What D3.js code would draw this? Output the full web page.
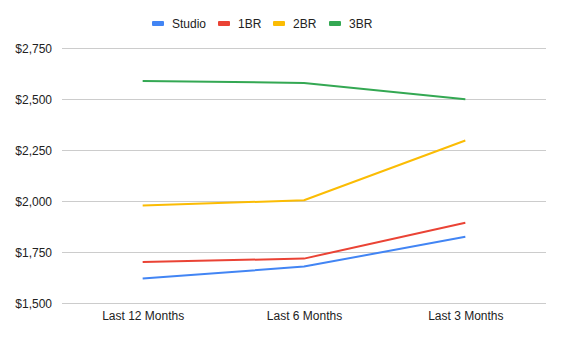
<!DOCTYPE html>
<html><head><meta charset="utf-8">
<script src="https://cdn.jsdelivr.net/npm/d3@7"></script>
<style>body{margin:0;background:#fff}svg{display:block;font-family:"Liberation Sans",Arial,sans-serif}</style>
</head><body>
<svg id="c" width="562" height="340"></svg>
<script>
const categories = ["Last 12 Months", "Last 6 Months", "Last 3 Months"];
const seriesNames = ["Studio", "1BR", "2BR", "3BR"];
const studio = [1621, 1680, 1826];
const br1 = [1703, 1719, 1895];
const br2 = [1979, 2005, 2298];
const br3 = [2590, 2580, 2500];
const yTicks = [1500, 1750, 2000, 2250, 2500, 2750];
const colors = ["#4285F4", "#EA4335", "#FBBC04", "#34A853"];

(function () {
const series = [studio, br1, br2, br3];
const svg = d3.select("#c");
const mLeft = 62, mRight = 546, mTop = 48.3, mBottom = 303.3;

const x = d3.scalePoint().domain(categories).range([mLeft, mRight]).padding(0.5);
const y = d3.scaleLinear().domain([1500, 2750]).range([mBottom, mTop]);

const fmt = d => "$" + d3.format(",")(d);

svg.append("g").selectAll("line").data(yTicks).join("line")
  .attr("x1", mLeft).attr("x2", mRight)
  .attr("y1", d => Math.round(y(d)) + 0.5).attr("y2", d => Math.round(y(d)) + 0.5)
  .attr("stroke", "#cccccc").attr("stroke-width", 1);

const yAxis = d3.axisLeft(y).tickValues(yTicks).tickFormat(fmt).tickSize(0).tickPadding(10);
const gy = svg.append("g").attr("transform", `translate(${mLeft},0)`).call(yAxis);
gy.select(".domain").remove();
gy.selectAll("text").attr("font-size", 12).attr("fill", "#222").attr("font-family", "Liberation Sans, Arial, sans-serif");

const xAxis = d3.axisBottom(x).tickSize(0).tickPadding(8);
const gx = svg.append("g").attr("transform", `translate(0,${mBottom})`).call(xAxis);
gx.select(".domain").remove();
gx.selectAll("text").attr("font-size", 12).attr("fill", "#222").attr("font-family", "Liberation Sans, Arial, sans-serif");

const line = d3.line().x((d, i) => x(categories[i])).y(d => y(d));
svg.append("g").selectAll("path").data(series).join("path")
  .attr("d", d => line(d))
  .attr("fill", "none")
  .attr("stroke", (d, i) => colors[i])
  .attr("stroke-width", 2)
  .attr("stroke-linejoin", "round");

const legX = [152, 218, 273, 329];
const lg = svg.append("g");
seriesNames.forEach((n, i) => {
  lg.append("rect").attr("x", legX[i]).attr("y", 21).attr("width", 12).attr("height", 5)
    .attr("rx", 1).attr("fill", colors[i]);
  lg.append("text").attr("x", legX[i] + 20).attr("y", 28).attr("font-size", 12)
    .attr("fill", "#222").text(n);
});
})();
</script>
</body></html>
